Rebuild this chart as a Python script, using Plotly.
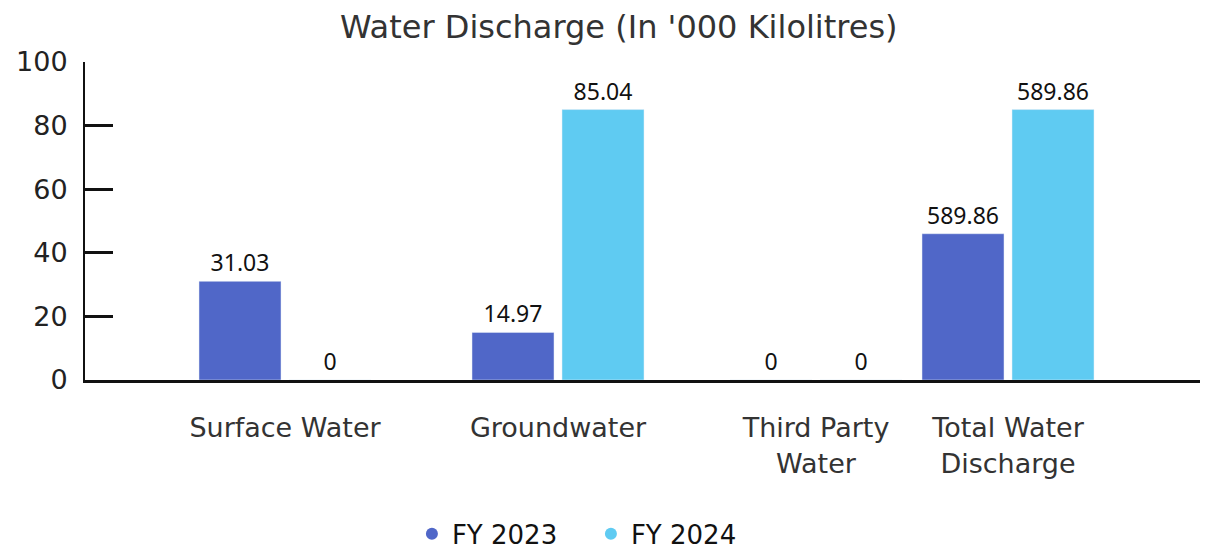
import plotly.graph_objects as go

categories = ["Surface Water", "Groundwater", "Third Party<br>Water", "Total Water<br>Discharge"]
fy2023 = [31.03, 14.97, 0, 46.0]
fy2024 = [0, 85.04, 0, 85.04]
fy2023_labels = ["31.03", "14.97", "0", "589.86"]
fy2024_labels = ["0", "85.04", "0", "589.86"]

# group centres on a plain numeric axis (the original spacing is uneven)
group_x = [200, 473, 731, 923]

c23 = "#5067C8"
c24 = "#5FCBF2"
label_font = dict(family="Noto Sans", size=23, color="#111111")
wide = "DejaVu Sans"

fig = go.Figure()
fig.add_trace(go.Bar(x=group_x, y=fy2023, width=82, offset=-86, marker_color=c23,
                     text=fy2023_labels, textposition="outside", textfont=label_font,
                     cliponaxis=False, showlegend=False, name="FY 2023"))
fig.add_trace(go.Bar(x=group_x, y=fy2024, width=82, offset=4, marker_color=c24,
                     text=fy2024_labels, textposition="outside", textfont=label_font,
                     cliponaxis=False, showlegend=False, name="FY 2024"))

# round legend markers
fig.add_trace(go.Scatter(x=[None], y=[None], mode="markers", name="FY 2023",
                         marker=dict(symbol="circle", size=17, color=c23)))
fig.add_trace(go.Scatter(x=[None], y=[None], mode="markers", name="FY 2024",
                         marker=dict(symbol="circle", size=17, color=c24)))

# page body has an 8px margin, so the figure is 8px smaller each way
fig.update_layout(
    width=1200, height=543,
    margin=dict(l=77, r=0, t=54, b=171, autoexpand=False),
    plot_bgcolor="white", paper_bgcolor="white",
    barmode="overlay",
    title=dict(text="Water Discharge (In '000 Kilolitres)", x=0.509, xanchor="center",
               y=1 - 19 / 543, yanchor="middle",
               font=dict(family=wide, size=32, color="#333333")),
    legend=dict(orientation="h", x=0.4505, xanchor="center", y=-0.484, yanchor="middle",
                font=dict(family=wide, size=26, color="#111111"),
                entrywidth=134, entrywidthmode="pixels",
                itemsizing="constant"),
    font=dict(family=wide),
)
fig.update_xaxes(range=[0, 1123], tickvals=group_x, ticktext=categories,
                 showline=True, linecolor="#111111", linewidth=3, ticks="",
                 showgrid=False, zeroline=False, ticklabelstandoff=22, automargin=False,
                 tickfont=dict(family=wide, size=27, color="#333333"))
fig.update_yaxes(range=[0, 100], tickvals=[0, 20, 40, 60, 80, 100],
                 showline=True, linecolor="#111111", linewidth=2,
                 ticks="inside", ticklen=28, tickwidth=3, tickcolor="#111111",
                 showgrid=False, zeroline=False, ticklabelstandoff=10, automargin=False,
                 tickfont=dict(family=wide, size=27, color="#222222"))

fig.write_html("out.html")
